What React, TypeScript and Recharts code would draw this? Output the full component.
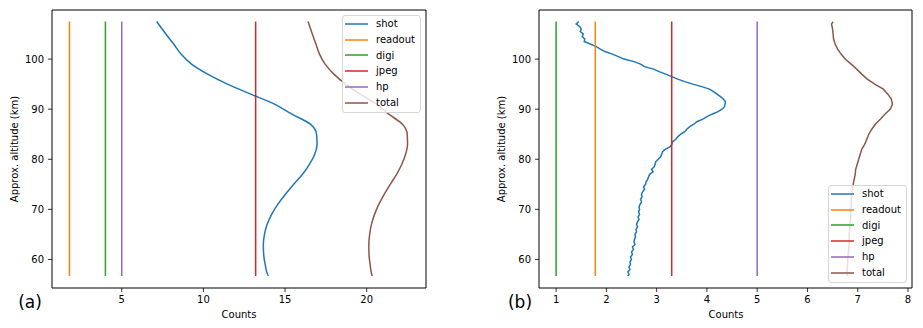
import React from "react";
import { LineChart, Line, XAxis, YAxis, ReferenceArea, Legend } from "recharts";

const FONT = '"DejaVu Sans", "Liberation Sans", sans-serif';

// ---------- series names & colours ----------
const seriesNames = ["shot", "readout", "digi", "jpeg", "hp", "total"];
const seriesColors = ["#1f77b4", "#ff7f0e", "#2ca02c", "#d62728", "#9467bd", "#8c564b"];

// ---------- panel (a) ----------
const altA = [107.5, 105, 103, 101, 99, 97, 95, 93, 91, 89, 87, 85, 83, 81, 79, 77, 75, 73, 71, 69, 67, 65, 63, 61, 59, 57, 56.7];
const shotA = [7.14, 7.7, 8.18, 8.63, 9.27, 10.26, 11.47, 12.9, 14.35, 15.42, 16.55, 16.93, 16.96, 16.82, 16.49, 16.07, 15.53, 15.02, 14.55, 14.18, 13.9, 13.74, 13.67, 13.69, 13.78, 13.93, 13.98];
const totalA = [16.41, 16.67, 16.89, 17.11, 17.45, 17.99, 18.71, 19.59, 20.6, 21.35, 22.19, 22.48, 22.5, 22.38, 22.15, 21.83, 21.44, 21.07, 20.74, 20.48, 20.29, 20.18, 20.13, 20.14, 20.21, 20.31, 20.34];
const constA = { readout: 1.8, digi: 4.0, jpeg: 13.2, hp: 5.0 };
const xTicksA = [5, 10, 15, 20];
const xDomainA: [number, number] = [0.73, 23.63];

// ---------- panel (b) ----------
const altB = [107.5, 107, 106.5, 106, 105.5, 105, 104.5, 104, 103.5, 103, 102.5, 102, 101.5, 101, 100.5, 100, 99.5, 99, 98.5, 98, 97.5, 97, 96.5, 96, 95.5, 95, 94.5, 94, 93.5, 93, 92.5, 92, 91.5, 91, 90.5, 90, 89.5, 89, 88.5, 88, 87.5, 87, 86.5, 86, 85.5, 85, 84.5, 84, 83.5, 83, 82.5, 82, 81.5, 81, 80.5, 80, 79.5, 79, 78.5, 78, 77.5, 77, 76.5, 76, 75.5, 75, 74.5, 74, 73.5, 73, 72.5, 72, 71.5, 71, 70.5, 70, 69.5, 69, 68.5, 68, 67.5, 67, 66.5, 66, 65.5, 65, 64.5, 64, 63.5, 63, 62.5, 62, 61.5, 61, 60.5, 60, 59.5, 59, 58.5, 58, 57.5, 57, 56.7];
const shotB = [1.45, 1.4, 1.47, 1.5, 1.48, 1.54, 1.52, 1.57, 1.56, 1.68, 1.8, 1.88, 1.97, 2.12, 2.24, 2.35, 2.55, 2.68, 2.76, 2.94, 3.05, 3.18, 3.3, 3.42, 3.56, 3.72, 3.9, 4.05, 4.13, 4.2, 4.27, 4.33, 4.37, 4.36, 4.35, 4.3, 4.22, 4.1, 4.0, 3.92, 3.8, 3.74, 3.66, 3.6, 3.56, 3.48, 3.42, 3.38, 3.32, 3.3, 3.27, 3.17, 3.12, 3.1, 3.08, 3.03, 2.98, 2.97, 2.95, 2.9, 2.93, 2.86, 2.84, 2.82, 2.79, 2.78, 2.74, 2.76, 2.72, 2.7, 2.71, 2.68, 2.7, 2.67, 2.65, 2.66, 2.64, 2.66, 2.63, 2.65, 2.62, 2.6, 2.62, 2.59, 2.6, 2.57, 2.58, 2.56, 2.55, 2.57, 2.52, 2.54, 2.5, 2.52, 2.48, 2.5, 2.47, 2.48, 2.45, 2.47, 2.43, 2.45, 2.42];
const altBT = [107.5, 107, 106, 105, 104, 103, 102, 101, 100, 99, 98, 97, 96, 95, 94, 93, 92, 91, 90, 89, 88, 87, 86, 85, 84, 83, 82, 81, 80, 79, 78, 77, 76, 75, 74, 73, 72, 71, 70, 69, 68, 67, 66, 65, 64, 63, 62, 61, 60, 59, 58, 57, 56.7];
const totalB = [6.51, 6.48, 6.5, 6.51, 6.52, 6.55, 6.6, 6.67, 6.75, 6.87, 6.98, 7.08, 7.19, 7.34, 7.51, 7.6, 7.67, 7.69, 7.65, 7.54, 7.45, 7.35, 7.28, 7.22, 7.18, 7.14, 7.08, 7.05, 7.02, 6.99, 6.96, 6.95, 6.93, 6.91, 6.9, 6.88, 6.87, 6.87, 6.86, 6.86, 6.86, 6.84, 6.84, 6.83, 6.83, 6.83, 6.82, 6.81, 6.8, 6.8, 6.79, 6.79, 6.79];
const constB = { readout: 1.78, digi: 1.0, jpeg: 3.3, hp: 5.0 };
const xTicksB = [1, 2, 3, 4, 5, 6, 7, 8];
const xDomainB: [number, number] = [0.66, 8.08];

// ---------- shared y axis ----------
const yTicks = [60, 70, 80, 90, 100];
const yDomain: [number, number] = [54.3, 109.8];

const makeLegend = (props: any) => {
  const payload = [...(props.payload || [])].sort(
    (a: any, b: any) => seriesNames.indexOf(a.value) - seriesNames.indexOf(b.value)
  );
  return (
    <div
      style={{
        border: "1px solid #d6d6d6",
        borderRadius: 3,
        background: "rgba(255,255,255,0.8)",
        padding: "0px 4px 1px 2px",
        fontFamily: FONT,
        fontSize: 10,
        color: "#000",
        boxSizing: "border-box",
      }}
    >
      {payload.map((p: any) => (
        <div key={p.value} style={{ display: "flex", alignItems: "center", height: 15.8 }}>
          <svg width={23} height={4} style={{ display: "block" }}>
            <line x1={0} y1={2} x2={23} y2={2} stroke={p.color} strokeWidth={1.5} />
          </svg>
          <span style={{ marginLeft: 8, lineHeight: "15.8px" }}>{p.value}</span>
        </div>
      ))}
    </div>
  );
};

type PanelProps = {
  width: number;
  yAxisWidth: number;
  marginRight: number;
  xDomain: [number, number];
  xTicks: number[];
  shotData: { alt: number; v: number }[];
  totalData: { alt: number; v: number }[];
  consts: { readout: number; digi: number; jpeg: number; hp: number };
  altEnds: [number, number];
  legendPos: { left: number; top: number; width: number };
  curve: "monotone" | "linear";
};

function Panel(p: PanelProps) {
  const constLine = (v: number) => [
    { alt: p.altEnds[0], v },
    { alt: p.altEnds[1], v },
  ];
  const tickStyle = { fontSize: 10, fill: "#000", fontFamily: FONT };
  return (
    <LineChart
      width={p.width}
      height={328}
      layout="vertical"
      margin={{ top: 10, right: p.marginRight, bottom: 0, left: 0 }}
    >
      <XAxis
        type="number"
        dataKey="v"
        domain={p.xDomain}
        ticks={p.xTicks}
        allowDataOverflow
        height={40}
        axisLine={false}
        tickLine={{ stroke: "#000", strokeWidth: 0.8 }}
        tickSize={4}
        tickMargin={4}
        tick={tickStyle}
        interval={0}
      />
      <YAxis
        type="number"
        dataKey="alt"
        domain={yDomain}
        ticks={yTicks}
        reversed
        allowDataOverflow
        width={p.yAxisWidth}
        axisLine={false}
        tickLine={{ stroke: "#000", strokeWidth: 0.8 }}
        tickSize={4}
        tickMargin={4}
        tick={tickStyle}
        interval={0}
      />
      <Line type={p.curve} data={p.shotData} dataKey="v" name={seriesNames[0]} stroke={seriesColors[0]} strokeWidth={1.5} dot={false} isAnimationActive={false} />
      <Line data={constLine(p.consts.readout)} dataKey="v" name={seriesNames[1]} stroke={seriesColors[1]} strokeWidth={1.5} dot={false} isAnimationActive={false} />
      <Line data={constLine(p.consts.digi)} dataKey="v" name={seriesNames[2]} stroke={seriesColors[2]} strokeWidth={1.5} dot={false} isAnimationActive={false} />
      <Line data={constLine(p.consts.jpeg)} dataKey="v" name={seriesNames[3]} stroke={seriesColors[3]} strokeWidth={1.5} dot={false} isAnimationActive={false} />
      <Line data={constLine(p.consts.hp)} dataKey="v" name={seriesNames[4]} stroke={seriesColors[4]} strokeWidth={1.5} dot={false} isAnimationActive={false} />
      <Line type={p.curve} data={p.totalData} dataKey="v" name={seriesNames[5]} stroke={seriesColors[5]} strokeWidth={1.5} dot={false} isAnimationActive={false} />
      <ReferenceArea
        x1={p.xDomain[0]}
        x2={p.xDomain[1]}
        y1={yDomain[0]}
        y2={yDomain[1]}
        fill="none"
        fillOpacity={0}
        stroke="#000"
        strokeWidth={1}
        ifOverflow="visible"
      />
      <Legend
        layout="horizontal"
        verticalAlign="middle"
        align="center"
        content={makeLegend}
        wrapperStyle={{ left: p.legendPos.left, top: p.legendPos.top, width: p.legendPos.width, height: "auto" }}
      />
    </LineChart>
  );
}

export default function App() {
  const shotDataA = altA.map((alt, i) => ({ alt, v: shotA[i] }));
  const totalDataA = altA.map((alt, i) => ({ alt, v: totalA[i] }));
  const shotDataB = altB.map((alt, i) => ({ alt, v: shotB[i] }));
  const totalDataB = altBT.map((alt, i) => ({ alt, v: totalB[i] }));
  const txt = { fontFamily: FONT, fontSize: 10, fill: "#000" } as const;
  return (
    <div style={{ position: "absolute", left: 0, top: 0, width: 923, height: 328, background: "#fff", overflow: "hidden" }}>
      <div style={{ position: "absolute", left: 0, top: 0 }}>
        <Panel
          width={460}
          yAxisWidth={52}
          marginRight={34}
          xDomain={xDomainA}
          xTicks={xTicksA}
          shotData={shotDataA}
          totalData={totalDataA}
          consts={constA}
          altEnds={[altA[0], altA[altA.length - 1]]}
          legendPos={{ left: 342, top: 15, width: 79 }}
          curve="monotone"
        />
      </div>
      <div style={{ position: "absolute", left: 460, top: 0 }}>
        <Panel
          width={463}
          yAxisWidth={79}
          marginRight={11}
          xDomain={xDomainB}
          xTicks={xTicksB}
          shotData={shotDataB}
          totalData={totalDataB}
          consts={constB}
          altEnds={[altB[0], altB[altB.length - 1]]}
          legendPos={{ left: 368, top: 185, width: 79 }}
          curve="linear"
        />
      </div>
      <svg width={923} height={328} style={{ position: "absolute", left: 0, top: 0, pointerEvents: "none" }}>
        <text {...txt} x={14} y={149} textAnchor="middle" dominantBaseline="central" transform="rotate(-90 14 149)">
          Approx. altitude (km)
        </text>
        <text {...txt} x={501} y={149} textAnchor="middle" dominantBaseline="central" transform="rotate(-90 501 149)">
          Approx. altitude (km)
        </text>
        <text {...txt} x={239} y={314} textAnchor="middle" dominantBaseline="central">Counts</text>
        <text {...txt} x={726} y={314} textAnchor="middle" dominantBaseline="central">Counts</text>
        <text fontFamily={FONT} fontSize={17} fill="#000" x={30} y={302} textAnchor="middle" dominantBaseline="central">(a)</text>
        <text fontFamily={FONT} fontSize={17} fill="#000" x={520} y={302} textAnchor="middle" dominantBaseline="central">(b)</text>
      </svg>
    </div>
  );
}
